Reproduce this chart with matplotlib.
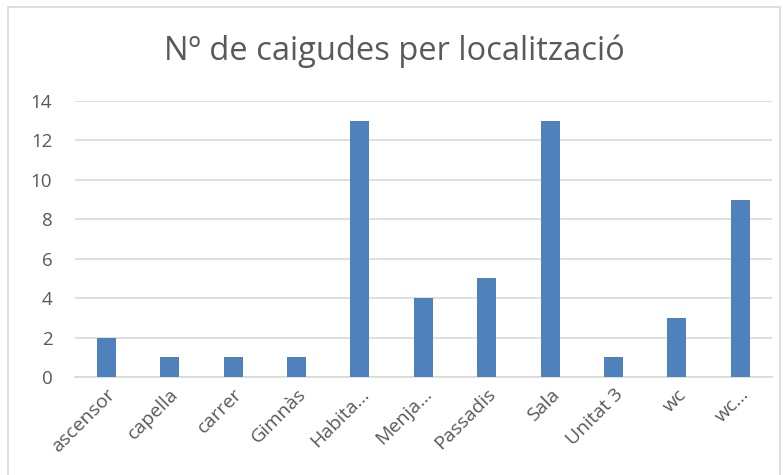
import matplotlib
matplotlib.use("Agg")
import matplotlib.pyplot as plt
from matplotlib.patches import Rectangle

categories = ["ascensor", "capella", "carrer", "Gimnàs", "Habita…", "Menja…",
              "Passadis", "Sala", "Unitat 3", "wc", "wc…"]
values = [2, 1, 1, 1, 13, 4, 5, 13, 1, 3, 9]
yticks = [0, 2, 4, 6, 8, 10, 12, 14]
title = "Nº de caigudes per localització"

plt.rcParams['font.family'] = ['Open Sans', 'DejaVu Sans']

W, H = 783, 475
fig = plt.figure(figsize=(W / 100, H / 100), dpi=100)
fig.patch.set_facecolor("white")

# chart border
fig.patches.append(Rectangle((8 / W, -0.01), (780 - 8) / W, 1.01 - 7 / H,
                             transform=fig.transFigure, fill=False,
                             edgecolor="#d9d9d9", linewidth=1.2))

left, right = 74.5, 772
bottom, top = 377, 101
ax = fig.add_axes([left / W, 1 - bottom / H, (right - left) / W, (bottom - top) / H])

x = list(range(len(categories)))
ax.bar(x, values, width=0.3, color="#4f81bd", zorder=3)
ax.set_xlim(-0.5, len(categories) - 0.5)
ax.set_ylim(0, 14)
ax.set_yticks(yticks)
ax.set_yticklabels([str(v) for v in yticks], fontsize=13.5, color="#595959")
ax.set_xticks(x)
ax.set_xticklabels(categories, rotation=45, ha="right", rotation_mode="anchor",
                   fontsize=14, color="#595959")
ax.tick_params(axis="both", length=0)
ax.tick_params(axis="y", pad=16)
ax.tick_params(axis="x", pad=6)
ax.grid(axis="y", color="#d9d9d9", linewidth=1.2, zorder=0)
for s in ["top", "right", "left"]:
    ax.spines[s].set_visible(False)
ax.spines["bottom"].set_color("#d9d9d9")
ax.spines["bottom"].set_linewidth(1.2)

fig.text(394 / W, 1 - 51 / H, title, ha="center", va="center",
         fontsize=23.5, color="#595959")

fig.savefig("out.png", dpi=100)
